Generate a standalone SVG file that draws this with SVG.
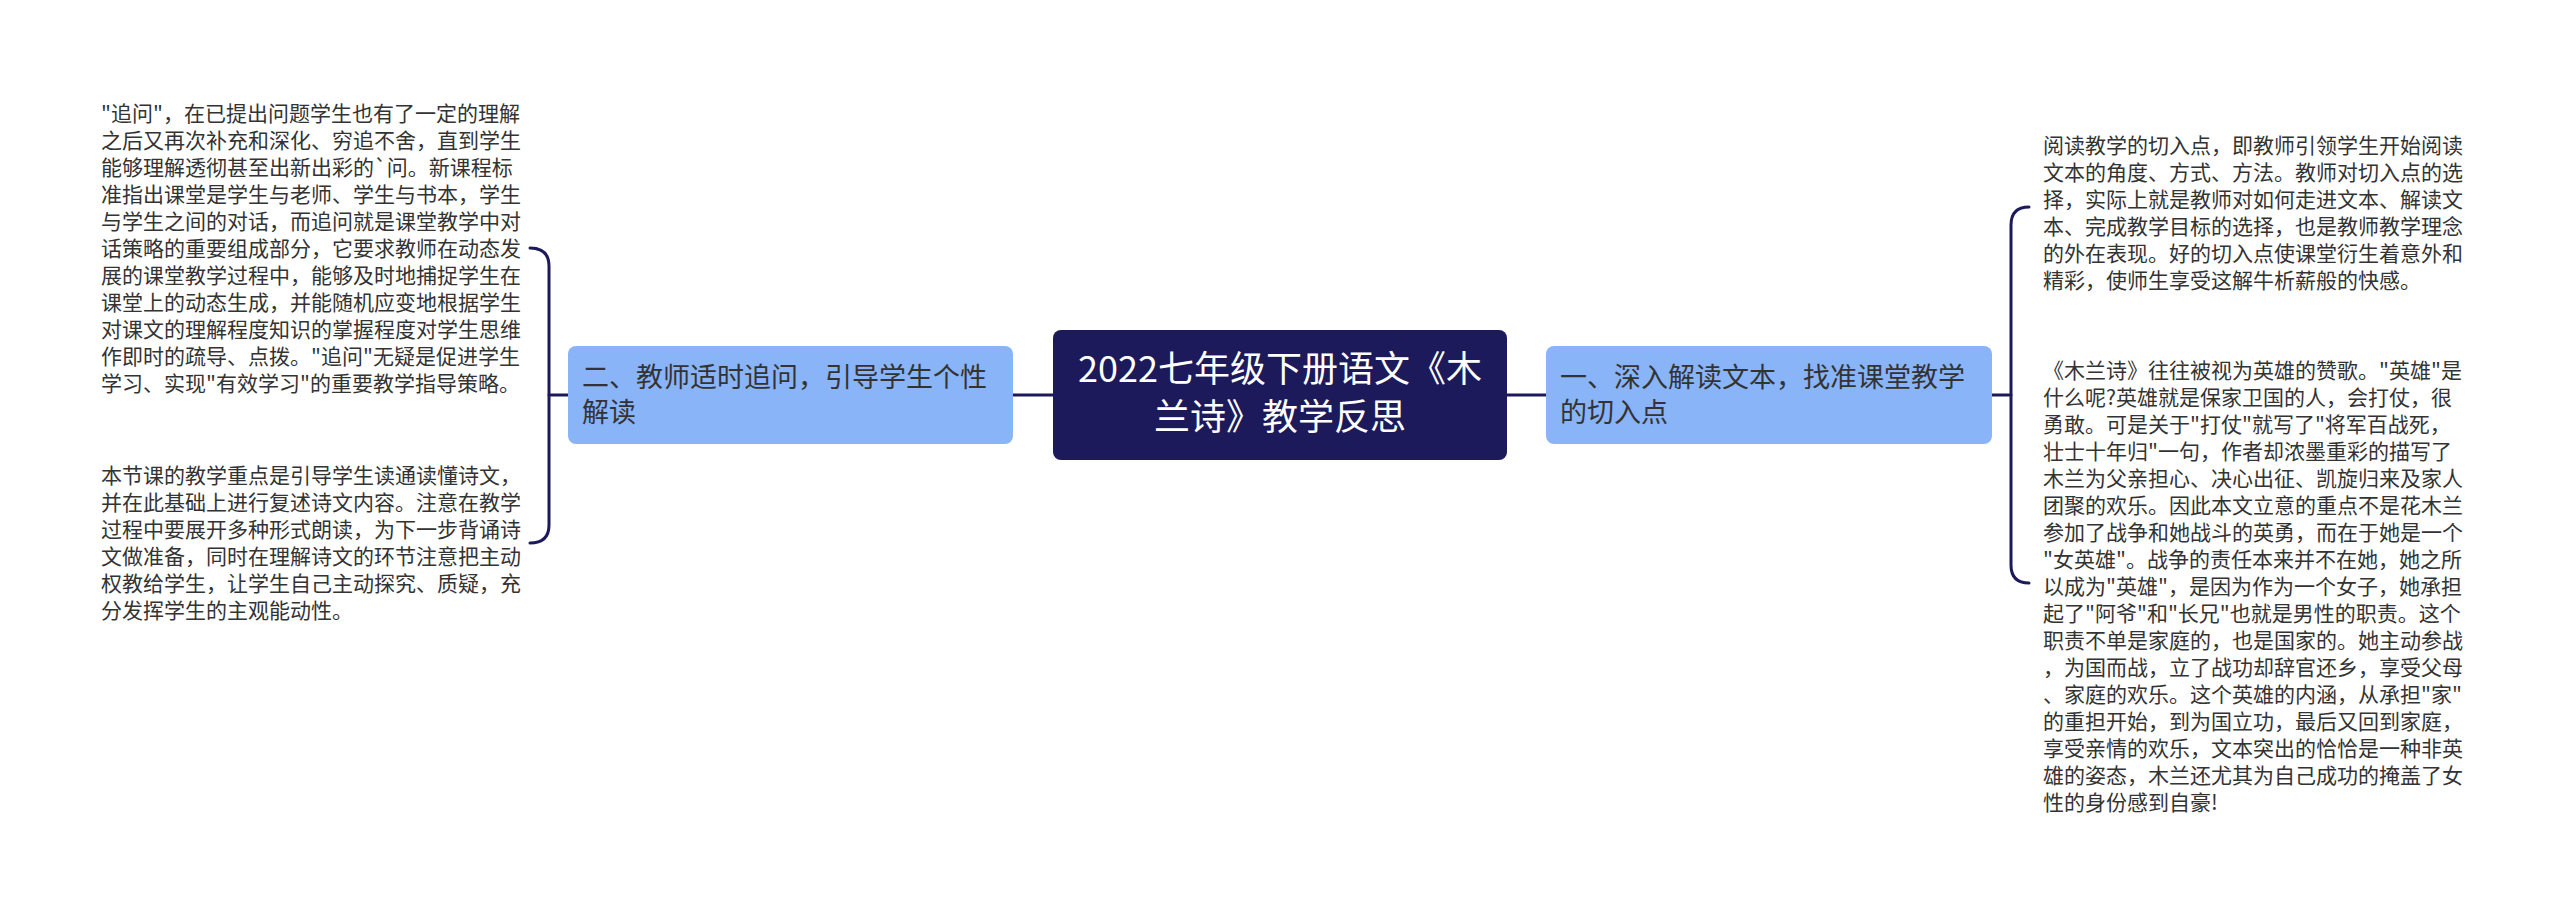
<svg xmlns="http://www.w3.org/2000/svg" width="2560" height="912" viewBox="0 0 2560 912">
<style>
.bg{fill:#ffffff}
.ln{fill:none;stroke:#1c1a5b;stroke-width:3;stroke-linecap:round}
.root{fill:#1c1a5b}
.sub{fill:#8ab4f8}
.t{font-family:"Noto Sans CJK SC","Noto Sans",sans-serif}
.rt{font-size:36px;fill:#ffffff;text-anchor:middle}
.st{font-size:27px;fill:#333333}
.lt{font-size:21px;fill:#333333}
</style>
<rect class="bg" x="0" y="0" width="2560" height="912"/>
<g id="connectors">
<path class="ln" d="M1013 395 H1053"/>
<path class="ln" d="M1507 395 H1546"/>
<path class="ln" d="M568 395 H549"/>
<path class="ln" d="M530 248 Q549 248 549 266 V525 Q549 543 530 543"/>
<path class="ln" d="M1992 395 H2011"/>
<path class="ln" d="M2029 207 Q2011 207 2011 225 V565 Q2011 583 2029 583"/>
</g>
<g id="root">
<rect class="root" x="1053" y="330" width="454" height="130" rx="8"/>
<text class="t rt" x="1280" y="382">2022七年级下册语文《木</text>
<text class="t rt" x="1280" y="430">兰诗》教学反思</text>
</g>
<g id="node-left">
<rect class="sub" x="568" y="346" width="445" height="98" rx="8"/>
<text class="t st" x="582" y="387">二、教师适时追问，引导学生个性</text>
<text class="t st" x="582" y="422">解读</text>
</g>
<g id="node-right">
<rect class="sub" x="1546" y="346" width="446" height="98" rx="8"/>
<text class="t st" x="1560" y="387">一、深入解读文本，找准课堂教学</text>
<text class="t st" x="1560" y="422">的切入点</text>
</g>
<g id="leaf-left-1">
<text class="t lt" x="101" y="121">"追问"，在已提出问题学生也有了一定的理解</text>
<text class="t lt" x="101" y="148">之后又再次补充和深化、穷追不舍，直到学生</text>
<text class="t lt" x="101" y="175">能够理解透彻甚至出新出彩的`问。新课程标</text>
<text class="t lt" x="101" y="202">准指出课堂是学生与老师、学生与书本，学生</text>
<text class="t lt" x="101" y="229">与学生之间的对话，而追问就是课堂教学中对</text>
<text class="t lt" x="101" y="256">话策略的重要组成部分，它要求教师在动态发</text>
<text class="t lt" x="101" y="283">展的课堂教学过程中，能够及时地捕捉学生在</text>
<text class="t lt" x="101" y="310">课堂上的动态生成，并能随机应变地根据学生</text>
<text class="t lt" x="101" y="337">对课文的理解程度知识的掌握程度对学生思维</text>
<text class="t lt" x="101" y="364">作即时的疏导、点拨。"追问"无疑是促进学生</text>
<text class="t lt" x="101" y="391">学习、实现"有效学习"的重要教学指导策略。</text>
</g>
<g id="leaf-left-2">
<text class="t lt" x="101" y="483">本节课的教学重点是引导学生读通读懂诗文，</text>
<text class="t lt" x="101" y="510">并在此基础上进行复述诗文内容。注意在教学</text>
<text class="t lt" x="101" y="537">过程中要展开多种形式朗读，为下一步背诵诗</text>
<text class="t lt" x="101" y="564">文做准备，同时在理解诗文的环节注意把主动</text>
<text class="t lt" x="101" y="591">权教给学生，让学生自己主动探究、质疑，充</text>
<text class="t lt" x="101" y="618">分发挥学生的主观能动性。</text>
</g>
<g id="leaf-right-1">
<text class="t lt" x="2043" y="153">阅读教学的切入点，即教师引领学生开始阅读</text>
<text class="t lt" x="2043" y="180">文本的角度、方式、方法。教师对切入点的选</text>
<text class="t lt" x="2043" y="207">择，实际上就是教师对如何走进文本、解读文</text>
<text class="t lt" x="2043" y="234">本、完成教学目标的选择，也是教师教学理念</text>
<text class="t lt" x="2043" y="261">的外在表现。好的切入点使课堂衍生着意外和</text>
<text class="t lt" x="2043" y="288">精彩，使师生享受这解牛析薪般的快感。</text>
</g>
<g id="leaf-right-2">
<text class="t lt" x="2043" y="378">《木兰诗》往往被视为英雄的赞歌。"英雄"是</text>
<text class="t lt" x="2043" y="405">什么呢?英雄就是保家卫国的人，会打仗，很</text>
<text class="t lt" x="2043" y="432">勇敢。可是关于"打仗"就写了"将军百战死，</text>
<text class="t lt" x="2043" y="459">壮士十年归"一句，作者却浓墨重彩的描写了</text>
<text class="t lt" x="2043" y="486">木兰为父亲担心、决心出征、凯旋归来及家人</text>
<text class="t lt" x="2043" y="513">团聚的欢乐。因此本文立意的重点不是花木兰</text>
<text class="t lt" x="2043" y="540">参加了战争和她战斗的英勇，而在于她是一个</text>
<text class="t lt" x="2043" y="567">"女英雄"。战争的责任本来并不在她，她之所</text>
<text class="t lt" x="2043" y="594">以成为"英雄"，是因为作为一个女子，她承担</text>
<text class="t lt" x="2043" y="621">起了"阿爷"和"长兄"也就是男性的职责。这个</text>
<text class="t lt" x="2043" y="648">职责不单是家庭的，也是国家的。她主动参战</text>
<text class="t lt" x="2043" y="675">，为国而战，立了战功却辞官还乡，享受父母</text>
<text class="t lt" x="2043" y="702">、家庭的欢乐。这个英雄的内涵，从承担"家"</text>
<text class="t lt" x="2043" y="729">的重担开始，到为国立功，最后又回到家庭，</text>
<text class="t lt" x="2043" y="756">享受亲情的欢乐，文本突出的恰恰是一种非英</text>
<text class="t lt" x="2043" y="783">雄的姿态，木兰还尤其为自己成功的掩盖了女</text>
<text class="t lt" x="2043" y="810">性的身份感到自豪!</text>
</g>
</svg>
